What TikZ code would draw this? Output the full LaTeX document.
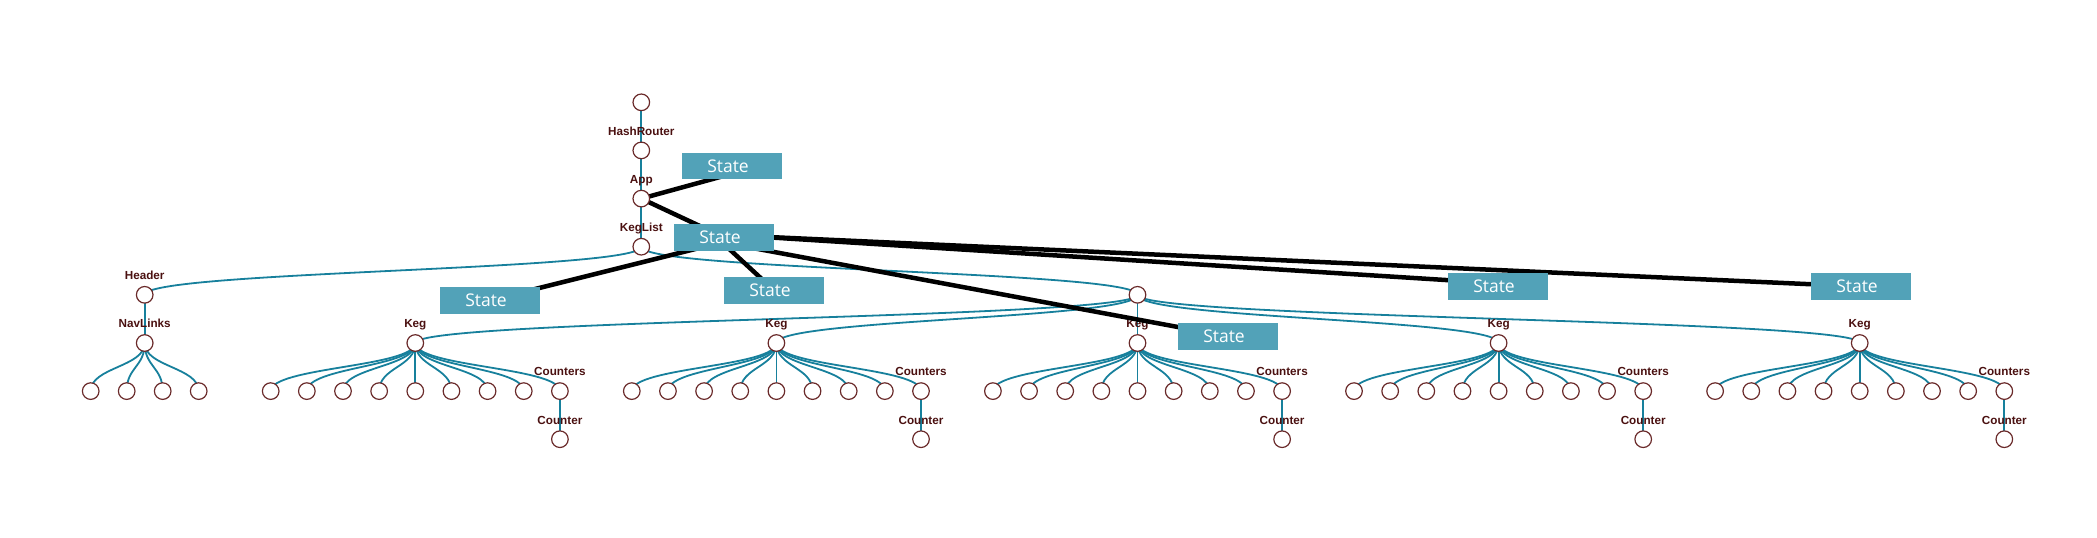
\documentclass[tikz,border=0pt]{standalone}
\usepackage{fontspec}
\setmainfont{Liberation Sans}
\newfontfamily\statefont{Open Sans}
\usetikzlibrary{calc}
\pgfdeclarelayer{linklayer}
\pgfdeclarelayer{lbllayer}
\pgfdeclarelayer{blklayer}
\pgfsetlayers{linklayer,lbllayer,blklayer,main}
\definecolor{linkc}{HTML}{17809C}
\definecolor{lblc}{HTML}{4A1010}
\definecolor{circc}{HTML}{6A2A2A}
\definecolor{boxc}{HTML}{52A2B8}
\tikzset{
  tn/.style={circle, draw=circc, fill=white, line width=0.6pt, minimum size=8.3pt, inner sep=0pt},
  lbl/.style={font=\bfseries\fontsize{5.85pt}{6pt}\selectfont, text=lblc, anchor=base, inner sep=0pt},
  statebox/.style={fill=boxc, minimum width=50pt, minimum height=13.35pt, inner sep=0pt, text=white, font=\statefont\fontsize{8.75pt}{9pt}\selectfont},
  treeedge/.style={draw=linkc, line width=0.9pt},
  stline/.style={draw=black, line width=2.25pt},
}
\newcommand\treelink[2]{%
  \draw[treeedge] let \p1=(#1.center), \p2=(#2.center) in
    (\p1) .. controls (\x1,{(\y1+\y2)/2}) and (\x2,{(\y1+\y2)/2}) .. (\p2);}
\newcommand\lbltext[2]{\node[lbl] (t-#1) at ($(#1)+(0,-15.2)$) {#2};}
\begin{document}
\begin{tikzpicture}[x=0.5pt,y=-0.5pt]
\useasboundingbox (0,0) rectangle (2097,537);
% tree nodes
\node[tn] (root) at (641.3,102.3) {};
\node[tn] (hr) at (641.3,150.4) {};
\node[tn] (app) at (641.3,198.6) {};
\node[tn] (kl) at (641.3,246.7) {};
\node[tn] (hd) at (144.7,294.8) {};
\node[tn] (nl) at (144.7,343) {};
\foreach \i in {1,...,4} \node[tn] (nl\i) at ({144.7+(\i-2.5)*36},391.1) {};
\node[tn] (mid) at (1137.5,294.8) {};
\foreach \k in {1,...,5} {
  \pgfmathsetmacro\kx{415.3+(\k-1)*361.1}
  \node[tn] (keg\k) at (\kx,343) {};
  \foreach \j in {1,...,9} \node[tn] (keg\k-\j) at ({\kx+(\j-5)*36.15},391.1) {};
  \node[tn] (cnt\k) at ({\kx+4*36.15},439.2) {};
}
% labels
\begin{pgfonlayer}{lbllayer}
\lbltext{hr}{HashRouter}
\lbltext{app}{App}
\lbltext{kl}{KegList}
\lbltext{hd}{Header}
\lbltext{nl}{NavLinks}
\foreach \k in {1,...,5} {
  \lbltext{keg\k}{Keg}
  \lbltext{keg\k-9}{Counters}
  \lbltext{cnt\k}{Counter}
}
\end{pgfonlayer}
% tree links
\begin{pgfonlayer}{linklayer}
\treelink{root}{hr}
\treelink{hr}{app}
\treelink{app}{kl}
\treelink{kl}{hd}
\treelink{kl}{mid}
\treelink{hd}{nl}
\foreach \i in {1,...,4} {\treelink{nl}{nl\i}}
\foreach \k in {1,...,5} {
  \treelink{mid}{keg\k}
  \foreach \j in {1,...,9} {\treelink{keg\k}{keg\k-\j}}
  \treelink{keg\k-9}{cnt\k}
}
\end{pgfonlayer}
% state boxes
\node[statebox] (s1) at (732,166) {State\kern4pt};
\node[statebox] (s2) at (724,237.3) {State\kern4pt};
\node[statebox] (s3) at (490,300.3) {State\kern4pt};
\node[statebox] (s4) at (774,290.3) {State\kern4pt};
\node[statebox] (s5) at (1228,336.3) {State\kern4pt};
\node[statebox] (s6) at (1498,286.3) {State\kern4pt};
\node[statebox] (s7) at (1861,286.5) {State\kern4pt};
% state connectors
\begin{pgfonlayer}{blklayer}
\draw[stline] (app.center) -- ($(s1.center)+(28,0)$);
\draw[stline] (app.center) -- (s2.center);
\draw[stline] ($(s2.center)+(-2,5)$) -- (s3.center);
\draw[stline] ($(s2.center)+(-2,5)$) -- (s4.center);
\draw[stline] ($(s2.center)+(-2,5)$) -- (s5.center);
\draw[stline] ($(s2.center)+(0,-2.8)$) -- ($(s6.center)+(0,-3)$);
\draw[stline] ($(s2.center)+(0,-2.3)$) -- (s7.center);
\end{pgfonlayer}
\end{tikzpicture}
\end{document}
